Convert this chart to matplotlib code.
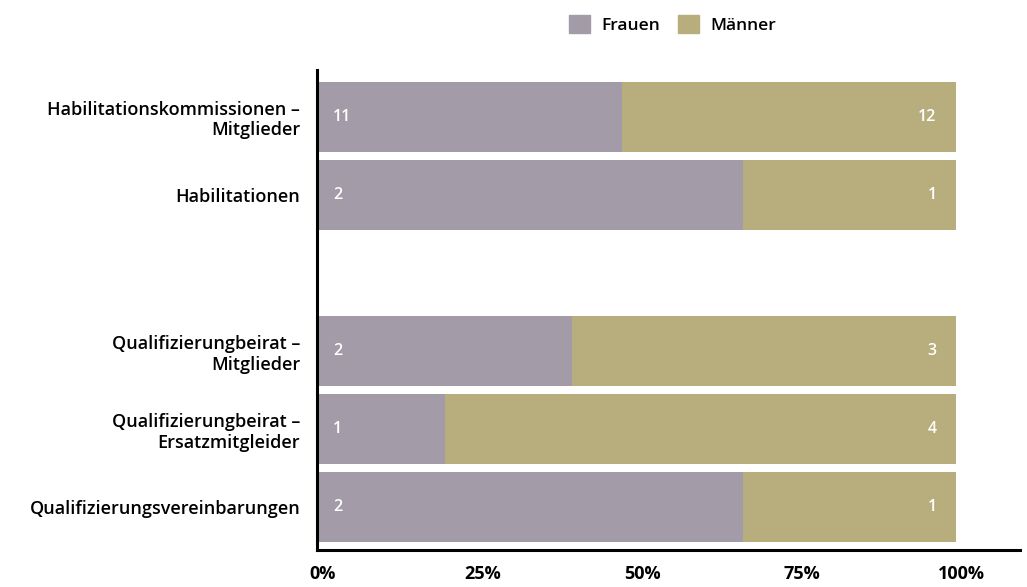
import matplotlib.pyplot as plt
from matplotlib.patches import Patch
from matplotlib.transforms import ScaledTranslation

# ---- data ----
categories = [
    "Habilitationskommissionen –\nMitglieder",
    "Habilitationen",
    "",
    "Qualifizierungbeirat –\nMitglieder",
    "Qualifizierungbeirat –\nErsatzmitgleider",
    "Qualifizierungsvereinbarungen",
]
frauen = [11, 2, None, 2, 1, 2]
maenner = [12, 1, None, 3, 4, 1]
x_ticks = [0, 25, 50, 75, 100]
x_labels = ["0%", "25%", "50%", "75%", "100%"]

COL_F = "#a39ca8"
COL_M = "#b8ad7c"

plt.rcParams['font.family'] = ['Open Sans', 'DejaVu Sans']

fig = plt.figure(figsize=(10.27, 5.87), dpi=100)
ax = fig.add_axes([0.3087, 0.063, 0.684, 0.818])

for i, (f, m) in enumerate(zip(frauen, maenner)):
    if f is None:
        continue
    tot = f + m
    pf = f / tot * 100
    pm = m / tot * 100
    ax.barh(i, pf, height=0.9, color=COL_F)
    ax.barh(i, pm, left=pf, height=0.9, color=COL_M)
    ax.text(2.5, i, str(f), color="white", va="center", ha="left",
            fontsize=11.5, fontweight="semibold")
    ax.text(97, i, str(m), color="white", va="center", ha="right",
            fontsize=11.5, fontweight="semibold")

ax.set_xlim(0, 110)
ax.set_ylim(5.55, -0.6)
ax.set_yticks(range(len(categories)))
ax.set_yticklabels(categories, fontsize=13, ha="right", linespacing=1.2,
                   fontweight="semibold")
ax.set_xticks(x_ticks)
ax.set_xticklabels(x_labels, fontsize=13, fontweight="bold")
ax.tick_params(axis="y", length=0, pad=12)
ax.tick_params(axis="x", length=0, pad=11)

# x labels sit a little to the right of their ticks in the original
shift = ScaledTranslation(6 / 100, 0, fig.dpi_scale_trans)
for lbl in ax.get_xticklabels():
    lbl.set_transform(lbl.get_transform() + shift)

for s in ["top", "right"]:
    ax.spines[s].set_visible(False)
for s in ["left", "bottom"]:
    ax.spines[s].set_linewidth(2.2)
    ax.spines[s].set_color("black")

handles = [Patch(color=COL_F, label="Frauen"), Patch(color=COL_M, label="Männer")]
leg = fig.legend(handles=handles, loc="center", bbox_to_anchor=(0.655, 0.958), ncol=2,
                 frameon=False, fontsize=12.5, handlelength=1.2, handleheight=1.2,
                 columnspacing=1.0, handletextpad=0.7)
for t in leg.get_texts():
    t.set_fontweight("semibold")

fig.savefig("out.png", dpi=100)
